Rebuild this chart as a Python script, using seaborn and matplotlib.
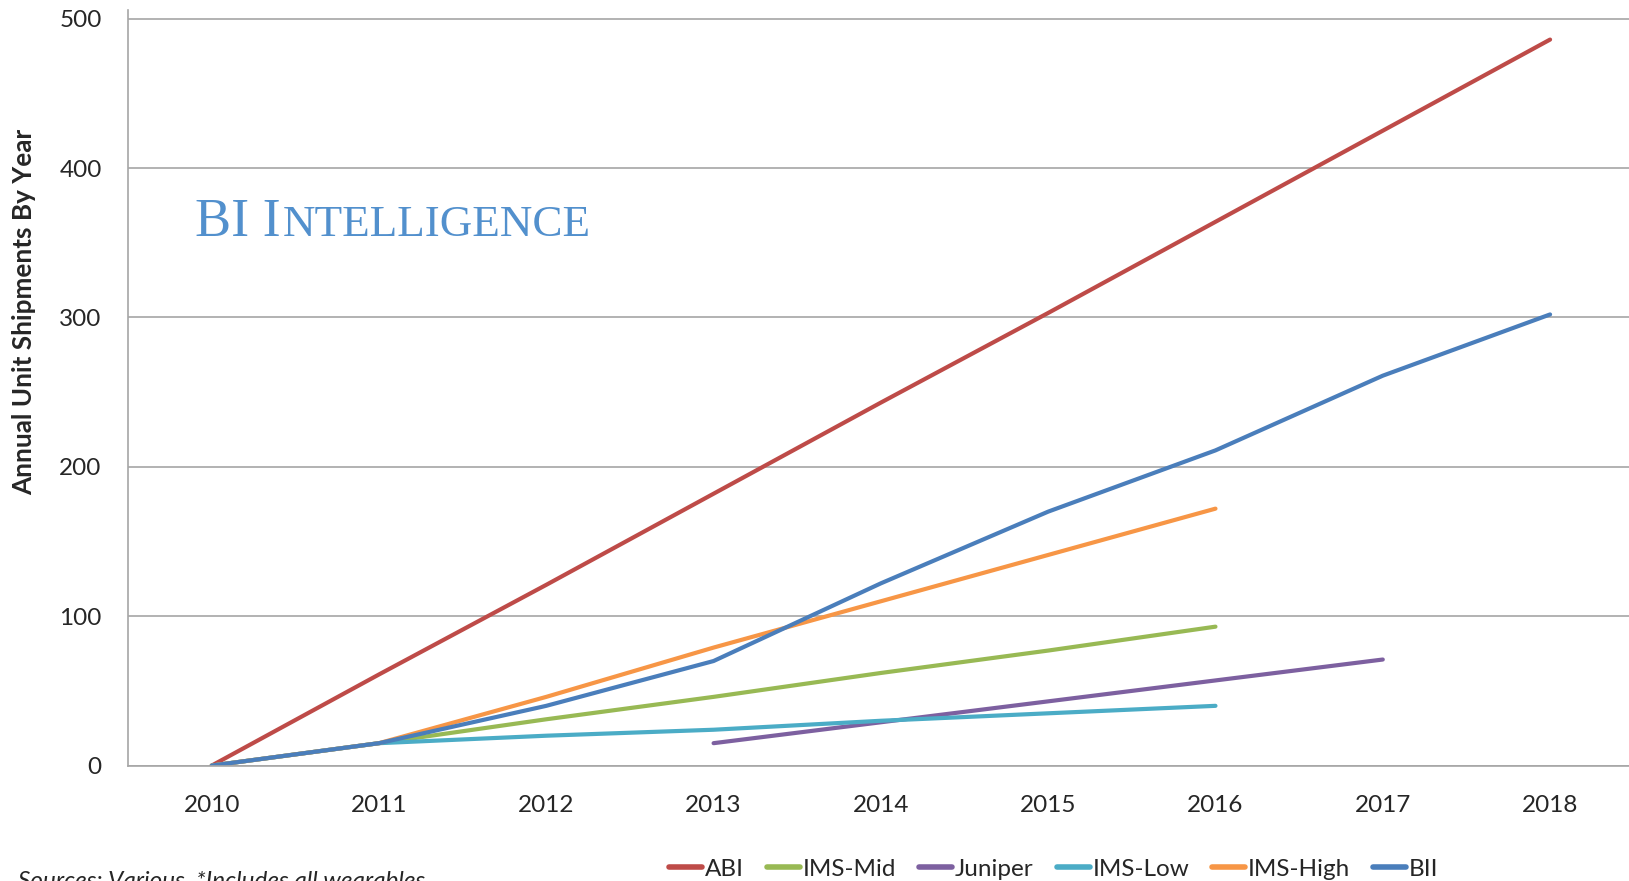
import matplotlib
matplotlib.use("Agg")
import matplotlib.pyplot as plt
import seaborn as sns
import pandas as pd

# values (million units)
years = [2010, 2011, 2012, 2013, 2014, 2015, 2016, 2017, 2018]
years_to_2016 = [2010, 2011, 2012, 2013, 2014, 2015, 2016]
juniper_years = [2013, 2014, 2015, 2016, 2017]

abi = [0, 61, 121, 182, 243, 303, 364, 425, 486]
ims_mid = [0, 15, 31, 46, 62, 77, 93]
juniper = [15, 29, 43, 57, 71]
ims_low = [0, 15, 20, 24, 30, 35, 40]
ims_high = [0, 15, 46, 79, 110, 141, 172]
bii = [0, 15, 40, 70, 122, 170, 211, 261, 302]

series_names = ["ABI", "IMS-Mid", "Juniper", "IMS-Low", "IMS-High", "BII"]
series_colors = ["#be4b48", "#98b954", "#7d60a0", "#4bacc6", "#f79646", "#4a7ebb"]

rows = []
for name, xs, ys in [("ABI", years, abi),
                     ("IMS-Mid", years_to_2016, ims_mid),
                     ("Juniper", juniper_years, juniper),
                     ("IMS-Low", years_to_2016, ims_low),
                     ("IMS-High", years_to_2016, ims_high),
                     ("BII", years, bii)]:
    for x, y in zip(xs, ys):
        rows.append({"year": x, "units": y, "series": name})
df = pd.DataFrame(rows)

sns.set_theme(style="white")
plt.rcParams["font.family"] = ["Lato", "DejaVu Sans"]

fig = plt.figure(figsize=(16.29, 8.81), dpi=100)
ax = fig.add_axes([0.0786, 0.131, 0.9243, 0.858])

sns.lineplot(data=df, x="year", y="units", hue="series", hue_order=series_names,
             palette=series_colors, linewidth=3.0, sort=False, ax=ax)

handles, labels = ax.get_legend_handles_labels()
ax.get_legend().remove()

grey = "#a6a6a6"
ax.set_xlim(2009.5, 2018.5)
ax.set_ylim(0, 506)
ax.set_yticks(range(0, 501, 100))
ax.set_xticks(years)
ax.set_xticks([y + 0.5 for y in [2009] + years], minor=True)
ax.yaxis.grid(True, color=grey, linewidth=1.2)
ax.set_axisbelow(True)
for side in ["top", "right"]:
    ax.spines[side].set_visible(False)
for side in ["left", "bottom"]:
    ax.spines[side].set_color(grey)
    ax.spines[side].set_linewidth(1.2)

ax.tick_params(axis="x", which="major", length=0, pad=21, labelsize=17.5, labelcolor="#262626")
ax.tick_params(axis="x", which="minor", length=7, width=1.2, color=grey, direction="out")
ax.tick_params(axis="y", length=7, width=1.2, color=grey, direction="out", pad=12,
               labelsize=17.5, labelcolor="#262626")
ax.set_xlabel("")
ax.set_ylabel("")

fig.text(24 / 1629, 1 - 312 / 881, "Annual Unit Shipments By Year", rotation=90,
         ha="center", va="center", fontsize=18.8, fontweight="bold", color="#262626")

# "BI Intelligence" logo in small caps
logo_color = "#5290cd"
serif = ["Liberation Serif", "DejaVu Serif"]
y_base = 1 - 236 / 881
t1 = fig.text(195 / 1629, y_base, "BI I", fontsize=39, family=serif, color=logo_color,
              va="baseline", ha="left")
renderer = fig.canvas.get_renderer()
bb = t1.get_window_extent(renderer)
fig.text(bb.x1 / fig.bbox.width + 0.001, y_base, "NTELLIGENCE", fontsize=32.5, family=serif,
         color=logo_color, va="baseline", ha="left")

fig.text(18 / 1629, 1 - 888 / 881, "Sources: Various. *Includes all wearables",
         fontsize=17.5, style="italic", color="#262626", va="baseline", ha="left")

leg = fig.legend(handles, labels, loc="center", bbox_to_anchor=(0.647, 0.0135), ncol=6,
                 frameon=False, fontsize=17.5, handlelength=1.35, handletextpad=0.12,
                 columnspacing=0.95, borderaxespad=0)
for line in leg.get_lines():
    line.set_linewidth(4)
for txt in leg.get_texts():
    txt.set_color("#262626")

fig.savefig("out.png", dpi=100)
